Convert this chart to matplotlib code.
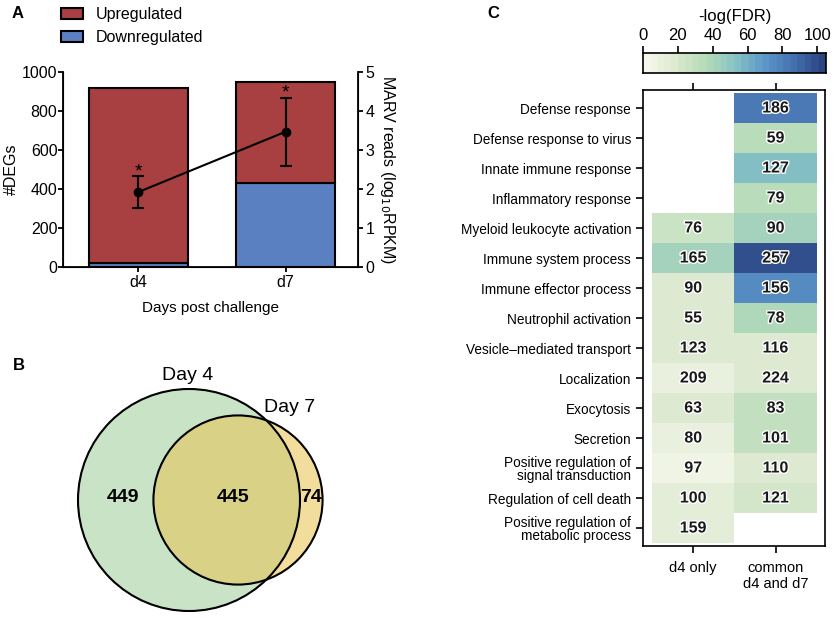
import numpy as np
import matplotlib
matplotlib.use("Agg")
import matplotlib.pyplot as plt
from matplotlib.patches import Circle
from matplotlib.colors import LinearSegmentedColormap
import matplotlib.patheffects as pe

plt.rcParams['font.family'] = ['Liberation Sans', 'DejaVu Sans']

# --- datos panel A
dias = ["d4", "d7"]
deg_total = [918, 949]
deg_down = [20, 431]
deg_up = [t - d for t, d in zip(deg_total, deg_down)]
marv_media = [1.92, 3.47]
marv_inf = [1.51, 2.60]
marv_sup = [2.33, 4.34]

# --- datos panel B (venn)
solo_d4 = 449
comun = 445
solo_d7 = 74

# --- datos panel C
terminos = ["Defense response", "Defense response to virus", "Innate immune response",
            "Inflammatory response", "Myeloid leukocyte activation", "Immune system process",
            "Immune effector process", "Neutrophil activation", "Vesicle\u2013mediated transport",
            "Localization", "Exocytosis", "Secretion",
            "Positive regulation of\nsignal transduction", "Regulation of cell death",
            "Positive regulation of\nmetabolic process"]
columnas = ["d4 only", "common\nd4 and d7"]
n_d4 = [None, None, None, None, 76, 165, 90, 55, 123, 209, 63, 80, 97, 100, 159]
n_comun = [186, 59, 127, 79, 90, 257, 156, 78, 116, 224, 83, 101, 110, 121, None]
fdr_d4 = [np.nan, np.nan, np.nan, np.nan, 28, 43, 19, 19, 18, 12, 19, 12, 8, 16, 15]
fdr_comun = [82, 33, 55, 33, 42, 100, 75, 38, 20, 20, 30, 30, 20, 22, np.nan]

rojo = "#a83f40"
azul = "#5a80c1"

fig = plt.figure(figsize=(8.35, 6.18), dpi=100)

# ---------------- Panel A
axA = fig.add_axes([63/835, 1-267/618, 295/835, 195/618])
x = np.arange(len(dias))
b_down = axA.bar(x, deg_down, width=0.67, color=azul, edgecolor="black", linewidth=1.5,
                 label="Downregulated")
b_up = axA.bar(x, deg_up, bottom=deg_down, width=0.67, color=rojo, edgecolor="black",
               linewidth=1.5, label="Upregulated")
axA.set_xlim(-0.51, 1.49)
axA.set_ylim(0, 1000)
axA.set_yticks([0, 200, 400, 600, 800, 1000])
axA.set_xticks(x)
axA.set_xticklabels(dias)
axA.set_ylabel("#DEGs", fontsize=11.5, labelpad=2)
axA.set_xlabel("Days post challenge", fontsize=11, labelpad=8)
axA.tick_params(labelsize=11.5, width=1.3, length=3.5, pad=0.5)
axA.tick_params(axis="x", pad=2)
axA.spines["top"].set_visible(False)
for s in ["left", "bottom"]:
    axA.spines[s].set_linewidth(1.3)

axA2 = axA.twinx()
err = [np.array(marv_media) - np.array(marv_inf), np.array(marv_sup) - np.array(marv_media)]
axA2.errorbar(x, marv_media, yerr=err, color="black", marker="o", markersize=6,
              linewidth=1.5, capsize=4, capthick=1.5, elinewidth=1.5)
for xi, s in zip(x, marv_sup):
    axA2.text(xi, s + 0.0, "*", ha="center", va="baseline", fontsize=14)
axA2.set_ylim(0, 5)
axA2.set_yticks([0, 1, 2, 3, 4, 5])
axA2.set_ylabel("MARV reads (log$_{10}$RPKM)", rotation=270, labelpad=16, fontsize=11.5)
axA2.tick_params(labelsize=11.5, width=1.3, length=3.5, pad=2)
axA2.spines["top"].set_visible(False)
axA2.spines["right"].set_linewidth(1.3)

fig.legend(handles=[b_up, b_down], labels=["Upregulated", "Downregulated"],
           loc="upper left", bbox_to_anchor=(61/835, 1-7/618), frameon=False, fontsize=11.5,
           borderpad=0, borderaxespad=0,
           handlelength=1.35, handleheight=0.75, labelspacing=0.5, handletextpad=0.85)

fig.text(12/835, 1-14/618, "A", fontsize=12, fontweight="bold", va="center")

# ---------------- Panel B
axB = fig.add_axes([0, 0, 420/835, 288/618])
axB.set_xlim(0, 420)
axB.set_ylim(288, 0)
axB.axis("off")
k = 111 / np.sqrt(solo_d4 + comun)
r4 = k * np.sqrt(solo_d4 + comun)
r7 = k * np.sqrt(comun + solo_d7)
c4 = (189, 170)
c7 = (238, 170)
verde = "#c9e3c6"
amarillo = "#f3dd9c"
mezcla = "#d9d186"
big = Circle(c4, r4, facecolor=verde, edgecolor="none")
axB.add_patch(big)
axB.add_patch(Circle(c7, r7, facecolor=amarillo, edgecolor="none"))
inter = Circle(c7, r7, facecolor=mezcla, edgecolor="none")
axB.add_patch(inter)
inter.set_clip_path(big)
axB.add_patch(Circle(c4, r4, facecolor="none", edgecolor="black", linewidth=1.5))
axB.add_patch(Circle(c7, r7, facecolor="none", edgecolor="black", linewidth=1.5))
axB.text(188, 46, "Day 4", ha="center", va="center", fontsize=14)
axB.text(290, 78, "Day 7", ha="center", va="center", fontsize=14)
axB.text(123, 167, str(solo_d4), ha="center", va="center", fontsize=14, fontweight="bold")
axB.text(233, 167, str(comun), ha="center", va="center", fontsize=14, fontweight="bold")
axB.text(311, 167, str(solo_d7), ha="center", va="center", fontsize=14, fontweight="bold")
fig.text(13/835, 1-366/618, "B", fontsize=12, fontweight="bold", va="center")

# ---------------- Panel C
cmap = LinearSegmentedColormap.from_list(
    "fdr", ["#f7f8ec", "#dce9cf", "#b7dcb9", "#8ac4c5", "#5d98c8", "#4672b2", "#2b4581"], N=26)
vmax = 105
axC = fig.add_axes([643/835, 1-546/618, 182/835, 456/618])
mat = np.ma.masked_invalid(np.array([fdr_d4, fdr_comun], dtype=float).T)
axC.imshow(mat, cmap=cmap, vmin=0, vmax=vmax, aspect="auto", interpolation="nearest",
           extent=(-0.5, 1.5, 14.5, -0.5))
for j, col in enumerate([n_d4, n_comun]):
    for i, v in enumerate(col):
        if v is not None:
            axC.text(j, i, str(v), ha="center", va="center", fontsize=11.5, fontweight="bold",
                     color="#1a1a1a",
                     path_effects=[pe.withStroke(linewidth=2, foreground="white")])
axC.set_xlim(-0.61, 1.6)
axC.set_ylim(14.6, -0.6)
axC.set_yticks(range(len(terminos)))
axC.set_yticklabels(terminos, fontsize=9.8, linespacing=0.95)
axC.set_xticks([0, 1])
axC.set_xticklabels(columnas, fontsize=10.5, linespacing=1.2)
axC.tick_params(axis="x", top=True, width=1.2, length=5, pad=6)
axC.tick_params(axis="y", width=1.2, length=5)
for s in axC.spines.values():
    s.set_linewidth(1.2)

axCb = fig.add_axes([643/835, 1-73/618, 183/835, 20/618])
grad = np.linspace(0, vmax, 300).reshape(1, -1)
axCb.imshow(grad, cmap=cmap, vmin=0, vmax=vmax, aspect="auto", extent=(0, vmax, 0, 1))
axCb.set_xlim(0, vmax)
axCb.set_yticks([])
axCb.set_xticks([0, 20, 40, 60, 80, 100])
axCb.xaxis.tick_top()
axCb.tick_params(axis="x", labelsize=12, width=1.2, length=5, pad=2)
for s in axCb.spines.values():
    s.set_linewidth(1.2)
fig.text(735/835, 1-17/618, "-log(FDR)", ha="center", va="center", fontsize=12)
fig.text(487/835, 1-14/618, "C", fontsize=12, fontweight="bold", va="center")

fig.savefig("out.png", dpi=100)
